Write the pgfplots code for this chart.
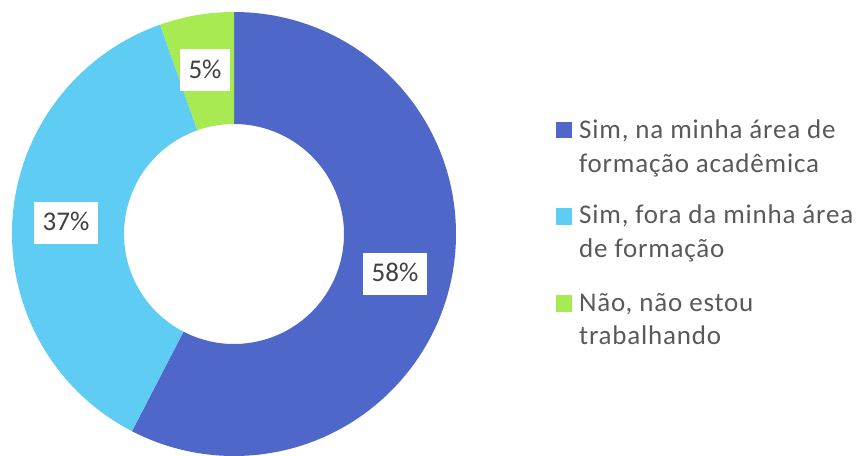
\documentclass[border=0pt]{standalone}
\usepackage{pgfplots}
\usepackage{pgfplotstable}
\pgfplotsset{compat=1.18}
\usepackage{fontspec}
\setmainfont{Carlito}
\definecolor{cblue}{HTML}{4E67C8}
\definecolor{clight}{HTML}{5ECCF3}
\definecolor{cgreen}{HTML}{A7EA52}
\definecolor{ctext}{HTML}{595959}
\definecolor{clab}{HTML}{404040}
\pgfplotstableread{
value
57.6
37.0
5.4
}\datatable
\begin{document}
\begin{tikzpicture}
\begin{axis}[
  width=867pt, height=455pt, scale only axis,
  xmin=0, xmax=867, ymin=0, ymax=455,
  enlargelimits=false, hide axis, clip=false]
\pgfplotstablegetelem{0}{value}\of\datatable \let\va\pgfplotsretval
\pgfplotstablegetelem{1}{value}\of\datatable \let\vb\pgfplotsretval
\pgfplotstablegetelem{2}{value}\of\datatable \let\vc\pgfplotsretval
\pgfmathsetmacro\aA{90}
\pgfmathsetmacro\aB{90-3.6*\va}
\pgfmathsetmacro\aC{\aB-3.6*\vb}
\pgfmathsetmacro\aD{\aC-3.6*\vc}
\coordinate (bl) at (axis cs:0,0);
\coordinate (tr) at (axis cs:867,455);
\coordinate (c) at (axis cs:234,221);
\fill[cblue] ([shift={(\aA:222pt)}]c) arc[start angle=\aA, end angle=\aB, radius=222pt]
  -- ([shift={(\aB:110pt)}]c) arc[start angle=\aB, end angle=\aA, radius=110pt] -- cycle;
\fill[clight] ([shift={(\aB:222pt)}]c) arc[start angle=\aB, end angle=\aC, radius=222pt]
  -- ([shift={(\aC:110pt)}]c) arc[start angle=\aC, end angle=\aB, radius=110pt] -- cycle;
\fill[cgreen] ([shift={(\aC:222pt)}]c) arc[start angle=\aC, end angle=\aD, radius=222pt]
  -- ([shift={(\aD:110pt)}]c) arc[start angle=\aD, end angle=\aC, radius=110pt] -- cycle;
\tikzset{lab/.style={fill=white, text=clab, font=\fontsize{27}{32}\selectfont, inner xsep=8.5pt, inner ysep=11pt, text height=18pt, text depth=2pt}}
\node[lab] at (axis cs:395,181) {58\%};
\node[lab] at (axis cs:66,232) {37\%};
\node[lab] at (axis cs:205,384.5) {5\%};
\tikzset{leg/.style={anchor=base west, text=ctext, font=\fontsize{27}{32}\selectfont\addfontfeatures{LetterSpace=3}, inner sep=0pt}}
\fill[cblue] (axis cs:556,317) rectangle (axis cs:572,333);
\fill[clight] (axis cs:556,230) rectangle (axis cs:572,247);
\fill[cgreen] (axis cs:556,143) rectangle (axis cs:572,160);
\node[leg] at (axis cs:579,316) {Sim, na minha área de};
\node[leg] at (axis cs:579,282) {formação acadêmica};
\node[leg] at (axis cs:579,231) {Sim, fora da minha área};
\node[leg] at (axis cs:579,197) {de formação};
\node[leg] at (axis cs:579,143) {Não, não estou};
\node[leg] at (axis cs:579,110) {trabalhando};
\end{axis}
\pgfresetboundingbox
\path[use as bounding box] (bl) rectangle (tr);
\end{tikzpicture}
\end{document}
